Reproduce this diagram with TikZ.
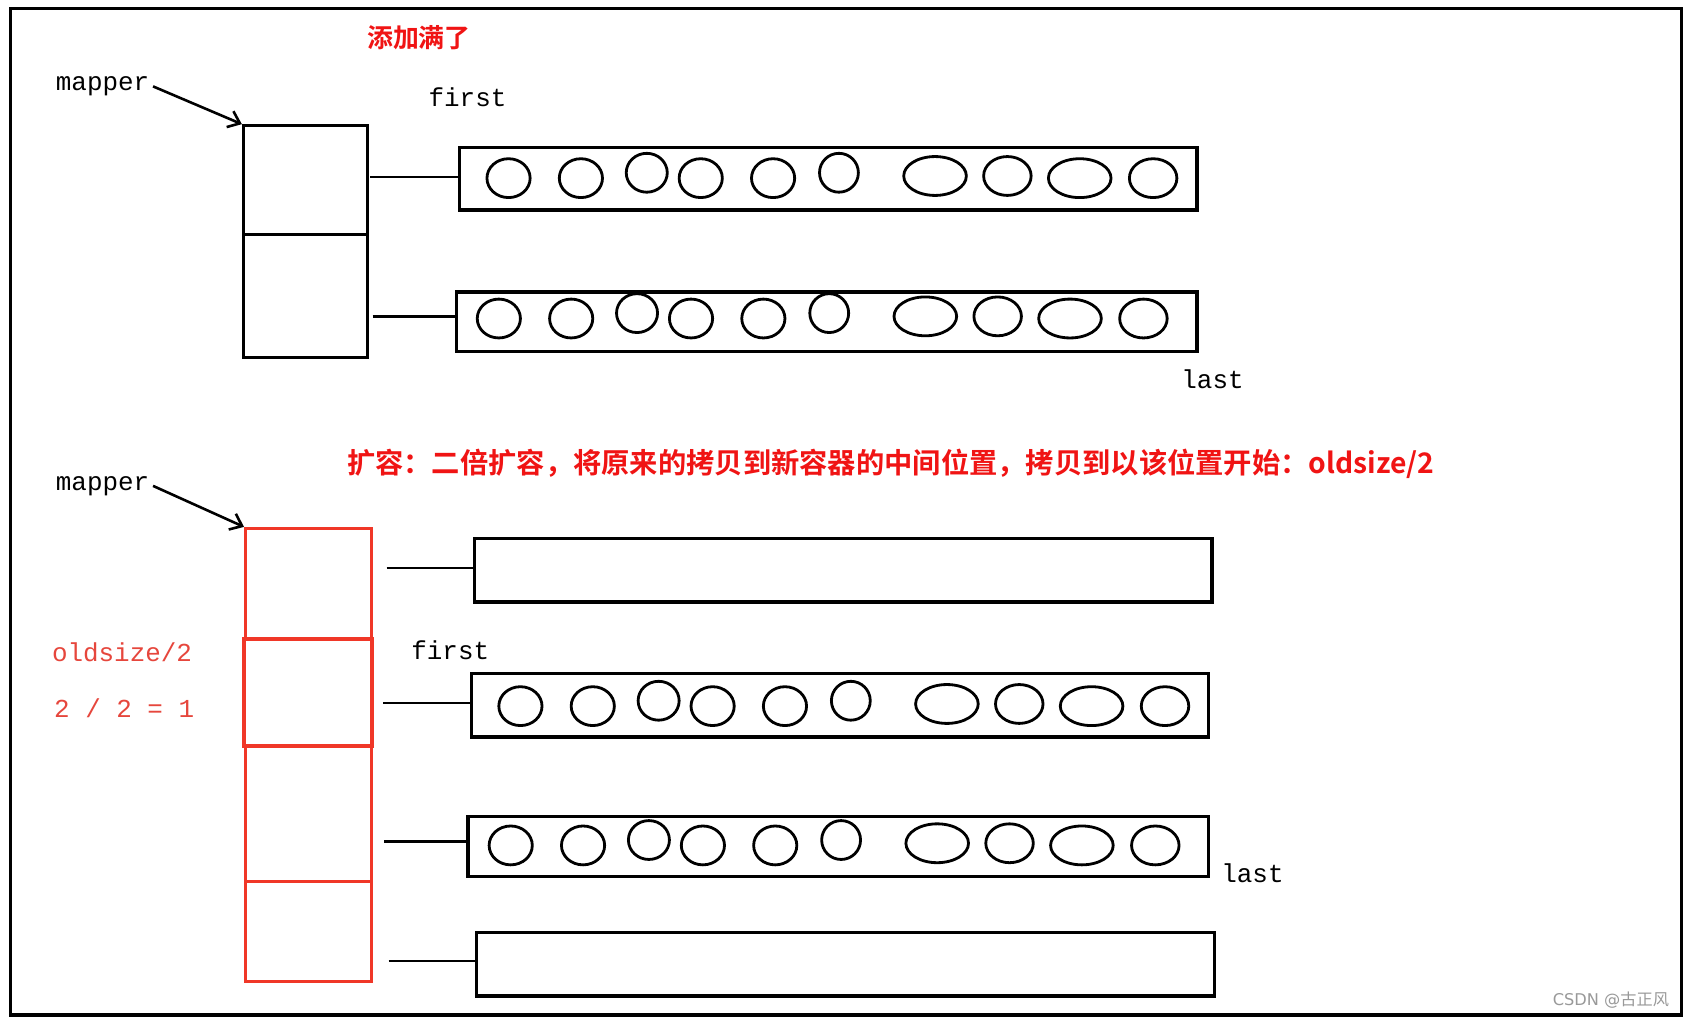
\documentclass[tikz,border=0pt]{standalone}
\usepackage{fontspec}
\setmainfont{Liberation Mono}
\newfontfamily\cjk{Noto Sans CJK SC}[BoldFont={* Bold}]
\newfontfamily\wm{DejaVu Sans}
\newfontfamily\cjkwm{Noto Sans CJK SC}
\usetikzlibrary{arrows.meta}
\tikzset{
 blk/.style={draw,line width=3pt,rectangle,inner sep=0,anchor=north west},
 circ/.style={draw,line width=2.6pt},
 lbl/.style={font=\fontsize{24}{26}\selectfont},
 red lbl/.style={font=\fontsize{24}{26}\selectfont, text=rdt},
 ttl/.style={font=\cjk\bfseries\fontsize{24}{28}\selectfont, text=ttlred},
 conn/.style={line width=2.6pt},
 ptr/.style={line width=2.4pt,-{Straight Barb[length=10pt,width=16pt]}},
 mapcell/.style={draw,line width=2.6pt,rectangle,inner sep=0},
}
\definecolor{ttlred}{RGB}{240,20,20}
\definecolor{rdt}{RGB}{230,70,60}
\definecolor{boxred}{RGB}{240,55,40}
\newcommand{\circrow}[2]{%
 \foreach \dx/\dy/\rx in {0/0/20,67/0/20,128/-5/19,178/0/20,245/0/20,306/-5/18,395/-2/29,462/-2/22,529/0/29,597/0/22}{
  \draw[circ] (#1+\dx,#2+\dy) ellipse [x radius=\rx, y radius=18];}}
\begin{document}
\begin{tikzpicture}[x=1pt,y=-1pt]
\useasboundingbox (0,0) rectangle (1568,944);
\fill[white] (0,0) rectangle (1568,944);
\draw[line width=3pt] (10,8) rectangle (1557,940);
% top
\node[ttl] (t1) at (388,35) {添加满了};
\node[lbl] (m1) at (95,80) {mapper};
\node[lbl] (f1) at (433,90) {first};
\node[lbl] (la1) at (1123,351) {last};
\node[mapcell,minimum width=115pt,minimum height=101pt,anchor=north west] (c11) at (224,115) {};
\node[mapcell,minimum width=115pt,minimum height=114pt,anchor=north west] (c12) at (224,216) {};
\draw[ptr] (m1.east) -- (c11.north west);
\node[blk,minimum width=683pt,minimum height=58pt] (b1) at (424,135) {};
\node[blk,minimum width=686pt,minimum height=55pt] (b2) at (421,269) {};
\coordinate (s1) at (343,164); \coordinate (s2) at (345,293);
\draw[conn] (s1) -- (s1 -| b1.west);
\draw[conn] (s2) -- (s2 -| b2.west);
\circrow{471}{165}
\circrow{462}{295}
% bottom
\node[ttl,font=\cjk\bfseries\fontsize{26.2}{30}\selectfont] (t2) at (825,430) {扩容：二倍扩容，将原来的拷贝到新容器的中间位置，拷贝到以该位置开始：oldsize/2};
\node[lbl] (m2) at (95,450) {mapper};
\node[mapcell,draw=boxred,minimum width=117pt,minimum height=102pt,anchor=north west] (r1) at (226,488) {};
\node[mapcell,draw=boxred,line width=3.6pt,minimum width=119pt,minimum height=99pt,anchor=north west] (r2) at (224,590) {};
\node[mapcell,draw=boxred,minimum width=117pt,minimum height=126pt,anchor=north west] (r3) at (226,689) {};
\node[mapcell,draw=boxred,minimum width=117pt,minimum height=93pt,anchor=north west] (r4) at (226,815) {};
\draw[ptr] (m2.east) -- (r1.north west);
\node[red lbl] (o1) at (113,604) {oldsize/2};
\node[red lbl] (o2) at (115,656) {2 / 2 = 1};
\node[lbl] (f2) at (417,602) {first};
\node[lbl] (la2) at (1160,809) {last};
\node[blk,minimum width=683pt,minimum height=59pt] (bA) at (438,497) {};
\node[blk,minimum width=683pt,minimum height=59pt] (bB) at (435,622) {};
\node[blk,minimum width=686pt,minimum height=55pt] (bC) at (432,755) {};
\node[blk,minimum width=683pt,minimum height=59pt] (bD) at (440,862) {};
\coordinate (sA) at (358,526); \coordinate (sB) at (355,651);
\coordinate (sC) at (356,779); \coordinate (sD) at (360,890);
\draw[conn] (sA) -- (sA -| bA.west);
\draw[conn] (sB) -- (sB -| bB.west);
\draw[conn] (sC) -- (sC -| bC.west);
\draw[conn] (sD) -- (sD -| bD.west);
\circrow{482}{654}
\circrow{473}{783}
\node[text=gray!80,font=\wm\fontsize{15}{16}\selectfont] (wm) at (1492,926) {CSDN @{\cjkwm 古正风}};
\end{tikzpicture}
\end{document}
